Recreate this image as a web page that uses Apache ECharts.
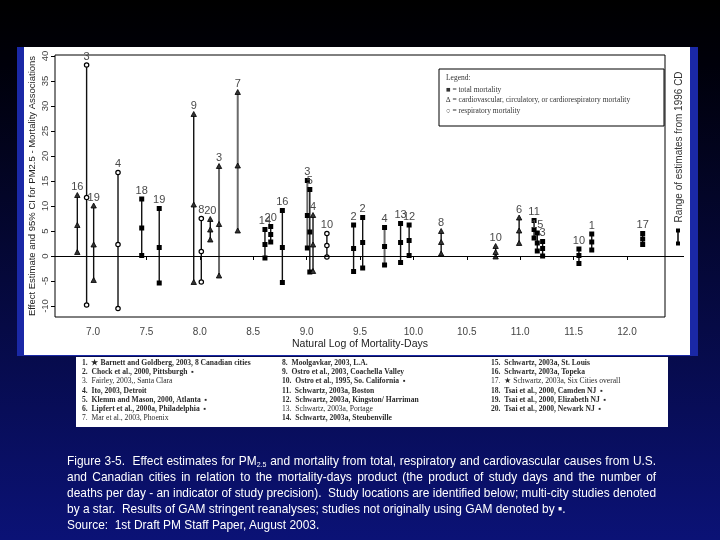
<!DOCTYPE html>
<html><head><meta charset="utf-8">
<script src="https://cdn.jsdelivr.net/npm/echarts@6/dist/echarts.min.js"></script>
<style>
html,body{margin:0;padding:0;background:#000;}
#wrap{position:relative;width:720px;height:540px;overflow:hidden;}
#chart{position:absolute;left:0;top:0;width:720px;height:540px;}
#caption{position:absolute;left:67px;top:453px;color:#fff;font-family:"Liberation Sans",Arial,sans-serif;font-size:13.5px;line-height:16px;transform-origin:0 0;}
#caption div{white-space:nowrap;text-align:justify;text-align-last:justify;}
#caption div.left{text-align:left;text-align-last:left;}
#caption div.src{margin-top:0px;}
#caption sub{font-size:8px;vertical-align:-2px;line-height:0;}
</style></head>
<body><div id="wrap"><div id="chart"></div>
<div id="caption">
<div class="j">Figure 3-5.&nbsp; Effect estimates for PM<sub>2.5</sub> and mortality from total, respiratory and cardiovascular causes from U.S.</div>
<div class="j">and Canadian cities in relation to the mortality-days product (the product of study days and the number of</div>
<div class="j">deaths per day - an indicator of study precision).&nbsp; Study locations are identified below; multi-city studies denoted</div>
<div class="left">by a star.&nbsp; Results of GAM stringent reanalyses; studies not originally using GAM denoted by ▪.</div>
<div class="left src">Source:&nbsp; 1st Draft PM Staff Paper, August 2003.</div>
</div>
</div>
<script>
// ---- data ----
const studyIds = [16,3,19,4,18,19,9,8,20,3,7,14,20,16,3,5,4,10,2,2,4,13,12,8,10,6,11,15,3,10,1,17];
const logMortalityDays = [6.853,6.94,7.006,7.234,7.456,7.62,7.943,8.014,8.098,8.18,8.355,8.61,8.664,8.773,9.007,9.03,9.06,9.19,9.44,9.525,9.73,9.88,9.96,10.26,10.77,10.99,11.13,11.16,11.21,11.55,11.67,12.147];
const lowerCI  = [0.7,-9.8,-4.9,-10.5,0.1,-5.4,-5.3,-5.2,3.2,-4.0,5.0,-0.4,2.8,-5.3,1.6,-3.2,-3.1,-0.2,-3.1,-2.4,-1.8,-1.3,0.1,0.4,-0.2,2.5,3.6,1.0,0.0,-1.5,1.2,2.3];
const estimate = [6.1,11.7,2.2,2.3,5.6,1.7,10.2,0.9,5.2,6.3,18.0,2.3,4.3,1.7,8.1,4.8,2.2,2.1,1.5,2.7,1.9,2.7,3.1,2.7,0.7,5.0,5.3,2.6,1.5,0.1,2.8,3.4];
const upperCI  = [12.1,38.2,10.0,16.7,11.4,9.5,28.3,7.5,7.3,17.9,32.7,5.3,5.9,9.1,15.1,13.3,8.1,4.5,6.2,7.7,5.7,6.5,6.2,4.9,1.9,7.6,7.1,4.6,2.9,1.4,4.4,4.5];
const outcome  = ['cardio','resp','cardio','resp','total','total','cardio','resp','cardio','cardio','cardio','total','total','total','total','total','cardio','resp','total','total','total','total','total','cardio','cardio','cardio','total','total','total','total','total','total'];
const cd1996Range = [2.5, 5.1];
const xTicks = [7,7.5,8,8.5,9,9.5,10,10.5,11,11.5,12];
const yTicks = [-10,-5,0,5,10,15,20,25,30,35,40];
const legendLines = ['Legend:','\u25A0 = total mortality','\u2206 = cardiovascular, circulatory, or cardiorespiratory mortality','\u25CB = respiratory mortality'];
const studyCol1 = ['1.  \u2605 Barnett and Goldberg, 2003, 8 Canadian cities','2.  Chock et al., 2000, Pittsburgh  \u25AA','3.  Fairley, 2003,, Santa Clara','4.  Ito, 2003, Detroit','5.  Klemm and Mason, 2000, Atlanta  \u25AA','6.  Lipfert et al., 2000a, Philadelphia  \u25AA','7.  Mar et al., 2003, Phoenix'];
const studyCol2 = ['8.  Moolgavkar, 2003, L.A.','9.  Ostro et al., 2003, Coachella Valley','10.  Ostro et al., 1995, So. California  \u25AA','11.  Schwartz, 2003a, Boston','12.  Schwartz, 2003a, Kingston/ Harriman','13.  Schwartz, 2003a, Portage','14.  Schwartz, 2003a, Steubenville'];
const studyCol3 = ['15.  Schwartz, 2003a, St. Louis','16.  Schwartz, 2003a, Topeka','17.  \u2605 Schwartz, 2003a, Six Cities overall','18.  Tsai et al., 2000, Camden NJ  \u25AA','19.  Tsai et al., 2000, Elizabeth NJ  \u25AA','20.  Tsai et al., 2000, Newark NJ  \u25AA'];

// ---- drawing ----
const greyIdx = [9,10,14,20];
const lightRows = {'3.':1,'7.':1,'13.':1,'17.':1};
const chart = echarts.init(document.getElementById('chart'), null, {renderer:'canvas', width:720, height:540});
const seriesData = studyIds.map((id,i)=>[logMortalityDays[i], lowerCI[i], estimate[i], upperCI[i], i]);

function marker(kind, p){
  if(kind==='total') return {type:'rect', shape:{x:p[0]-2.5,y:p[1]-2.5,width:5,height:5}, style:{fill:'#000'}};
  if(kind==='cardio') return {type:'polygon', shape:{points:[[p[0],p[1]-3],[p[0]+2.7,p[1]+2],[p[0]-2.7,p[1]+2]]}, style:{fill:'#333', stroke:'#000', lineWidth:0.8}};
  return {type:'circle', shape:{cx:p[0],cy:p[1],r:2.2}, style:{fill:'#fff', stroke:'#000', lineWidth:1.2}};
}
function renderStudy(params, api){
  const i = api.value(4), x = api.value(0);
  const pl = api.coord([x, api.value(1)]), pe = api.coord([x, api.value(2)]), pu = api.coord([x, api.value(3)]);
  const grey = greyIdx.indexOf(i) >= 0;
  const kids = [{type:'line', shape:{x1:pl[0],y1:pl[1],x2:pu[0],y2:pu[1]}, style:{stroke: grey?'#6a6a6a':'#111', lineWidth: grey?2:1.4}}];
  [pl,pe,pu].forEach(p=>kids.push(marker(outcome[i], p)));
  kids.push({type:'text', x:pu[0], y:pu[1]-3, style:{text:String(studyIds[i]), textAlign:'center', textVerticalAlign:'bottom', fill:'#4a4a4a', font:'11px "Liberation Sans", Arial, sans-serif'}});
  return {type:'group', children:kids};
}
function renderRange(params, api){
  const x = api.value(0);
  const a = api.coord([x, api.value(1)]), b = api.coord([x, api.value(2)]);
  return {type:'group', children:[
    {type:'line', shape:{x1:a[0],y1:a[1],x2:b[0],y2:b[1]}, style:{stroke:'#000', lineWidth:1.5}},
    {type:'rect', shape:{x:a[0]-2,y:a[1]-2,width:4,height:4}, style:{fill:'#000'}},
    {type:'rect', shape:{x:b[0]-2,y:b[1]-2,width:4,height:4}, style:{fill:'#000'}}
  ]};
}

const graphics = [
  {type:'rect', z:-20, shape:{x:17,y:47,width:681,height:309}, style:{fill:'#1a28a6'}},
  {type:'rect', z:-19, shape:{x:24,y:47,width:666,height:308}, style:{fill:'#ffffff'}},
  {type:'rect', z:5, shape:{x:439,y:69,width:225,height:57}, style:{fill:'#fff', stroke:'#000', lineWidth:1}},
  {type:'text', z:6, x:679, y:147, rotation:Math.PI/2, style:{text:'Range of estimates from 1996 CD', textAlign:'center', textVerticalAlign:'middle', fill:'#333', font:'10px "Liberation Sans", Arial, sans-serif'}},
  {type:'rect', z:-18, shape:{x:76,y:357,width:592,height:70}, style:{fill:'#ffffff'}}
];
legendLines.forEach((t,k)=>graphics.push({type:'text', z:6, x:446, y:[78,90,100,111][k], style:{text:t, textVerticalAlign:'middle', fill:'#333', font:'7.5px "Liberation Serif", "Times New Roman", serif'}}));
[[studyCol1,82],[studyCol2,282],[studyCol3,491]].forEach(([col,cx])=>{
  col.forEach((t,r)=>{
    const light = lightRows[t.split(' ')[0]];
    graphics.push({type:'text', z:6, x:cx, y:363+r*9.2, style:{text:t, textVerticalAlign:'middle', fill:'#2a2a2a', font:(light?'':'bold ')+'7.6px "Liberation Serif", "Times New Roman", serif'}});
  });
});

const option = {
  animation:false,
  backgroundColor: new echarts.graphic.LinearGradient(0,0,0,1,[{offset:0,color:'#000000'},{offset:0.12,color:'#00000a'},{offset:1,color:'#0b1276'}]),
  graphic: graphics,
  grid:[
    {left:55, top:55, width:610, height:262, show:true, borderColor:'#000', borderWidth:1, backgroundColor:'transparent'},
    {left:665, top:55, width:25, height:262, show:false}
  ],
  xAxis:[
    {gridIndex:0, type:'value', min:6.644, max:12.356, axisLine:{show:false}, splitLine:{show:false},
     axisTick:{show:true, customValues:xTicks, length:4, lineStyle:{color:'#000'}},
     axisLabel:{customValues:xTicks, formatter:v=>v.toFixed(1), color:'#444', fontSize:10, margin:10, fontFamily:'"Liberation Sans", Arial, sans-serif'},
     name:'Natural Log of Mortality-Days', nameLocation:'middle', nameGap:22, nameMoveOverlap:false,
     nameTextStyle:{color:'#222', fontSize:10.5, fontFamily:'"Liberation Sans", Arial, sans-serif'}},
    {gridIndex:1, type:'value', min:0, max:1, show:false}
  ],
  yAxis:[
    {gridIndex:0, type:'value', min:-12.2, max:40.2, axisLine:{show:false}, splitLine:{show:false},
     axisTick:{show:true, customValues:yTicks, length:4, lineStyle:{color:'#000'}},
     axisLabel:{customValues:yTicks, rotate:90, color:'#444', fontSize:9.5, margin:5, fontFamily:'"Liberation Sans", Arial, sans-serif'},
     name:'Effect Estimate and 95% CI for PM2.5 - Mortality Associations', nameLocation:'middle', nameGap:18, nameRotate:90, nameMoveOverlap:false,
     nameTextStyle:{color:'#222', fontSize:9.5, fontFamily:'"Liberation Sans", Arial, sans-serif'}},
    {gridIndex:1, type:'value', min:-12.2, max:40.2, show:false}
  ],
  series:[
    {type:'custom', xAxisIndex:0, yAxisIndex:0, clip:false, renderItem:renderStudy, data:seriesData, z:3,
     markLine:{silent:true, symbol:'none', label:{show:false}, lineStyle:{color:'#000', width:1, type:'solid'}, data:[{yAxis:0}]}},
    {type:'custom', xAxisIndex:1, yAxisIndex:1, clip:false, renderItem:renderRange, data:[[0.52, cd1996Range[0], cd1996Range[1]]], z:3,
     markLine:{silent:true, symbol:'none', label:{show:false}, lineStyle:{color:'#000', width:1, type:'solid'}, data:[[{coord:[0,0]},{coord:[0.76,0]}]]}}
  ]
};
chart.setOption(option);

// caption: measure natural widths, fit widest line to the reference width, justify the others
(function(){
  const cap = document.getElementById('caption');
  const lines = Array.from(cap.querySelectorAll('div'));
  cap.style.width = '2000px';
  let maxW = 0;
  lines.forEach(d=>{
    d.style.display='inline-block';
    const w = d.getBoundingClientRect().width;
    if(d.classList.contains('j')) maxW = Math.max(maxW, w);
    d.style.display='';
  });
  maxW += 1;
  cap.style.width = maxW + 'px';
  lines.forEach(d=>{
    if(!d.classList.contains('j')) return;
    d.style.display='inline-block';
    const w = d.getBoundingClientRect().width;
    d.style.display='';
    const gaps = (d.textContent.match(/[ \u00a0]/g)||[]).length;
    d.style.wordSpacing = ((maxW - 1 - w) / Math.max(1,gaps)) + 'px';
    d.style.textAlignLast='left'; d.style.textAlign='left';
  });
  cap.style.transform = 'scaleX(' + (590 / maxW) + ')';
})();
</script>
</body></html>
